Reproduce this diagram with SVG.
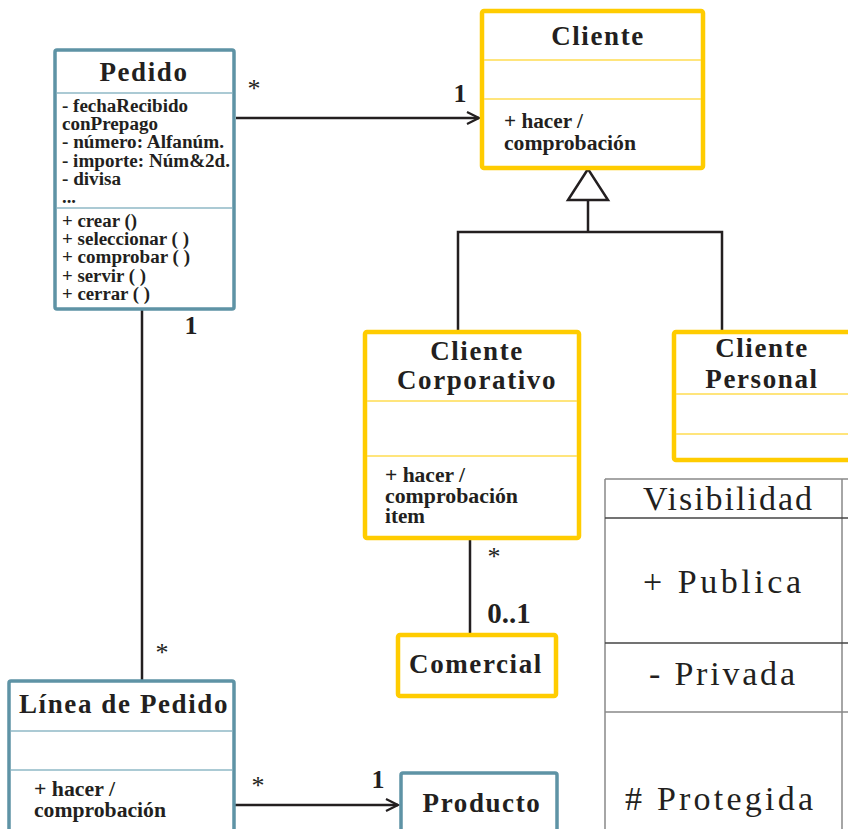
<svg xmlns="http://www.w3.org/2000/svg" width="848" height="829" viewBox="0 0 848 829">
<style>
.bg{fill:#ffffff}
.teal{fill:#ffffff;stroke:#5e93a5;stroke-width:3.5}
.tdiv{stroke:#8fb8c6;stroke-width:1.5;fill:none}
.yel{fill:#ffffff;stroke:#ffcc00;stroke-width:4.5}
.ydiv{stroke:#ffdc50;stroke-width:1.5;fill:none}
.title{font-family:"Liberation Serif",serif;font-weight:bold;font-size:27px;letter-spacing:1.6px;fill:#231f20;text-anchor:middle}
.attr{font-family:"Liberation Serif",serif;font-weight:bold;font-size:18px;fill:#231f20}
.meth{font-family:"Liberation Serif",serif;font-weight:bold;font-size:20.5px;fill:#231f20}
.mult{font-family:"Liberation Serif",serif;font-weight:bold;font-size:26px;fill:#231f20;text-anchor:middle}
.star{font-family:"Liberation Serif",serif;font-size:26px;fill:#231f20;text-anchor:middle}
.conn{stroke:#231f20;stroke-width:2.5;fill:none}
.tab{font-family:"Liberation Serif",serif;font-size:34px;fill:#231f20}
.tline{stroke:#444;stroke-width:1.5;fill:none}
.tgray{stroke:#888;stroke-width:1.5;fill:none}
</style>
<defs>
<marker id="open" markerUnits="userSpaceOnUse" markerWidth="16" markerHeight="14" refX="13" refY="7" orient="auto">
<path d="M1,1 L13,7 L1,13" fill="none" stroke="#231f20" stroke-width="2.2"/>
</marker>
</defs>
<rect class="bg" x="0" y="0" width="848" height="829"/>

<g id="connectors">
<path class="conn" d="M236,118 H479" marker-end="url(#open)"/>
<path class="conn" d="M142,309 V680"/>
<path class="conn" d="M588,200 V232"/>
<path class="conn" d="M458,332 V232 H722 V332"/>
<polygon points="588,169 568,200 608,200" fill="#ffffff" stroke="#231f20" stroke-width="2.5"/>
<path class="conn" d="M470,538 V635"/>
<path class="conn" d="M234,805 H398" marker-end="url(#open)"/>
<text class="star" x="254" y="97">*</text>
<text class="mult" x="460" y="102">1</text>
<text class="mult" x="191" y="334">1</text>
<text class="star" x="162" y="661">*</text>
<text class="star" x="494" y="565">*</text>
<text class="mult" x="509" y="623" style="font-size:29px">0..1</text>
<text class="star" x="258" y="794">*</text>
<text class="mult" x="378" y="788">1</text>
</g>

<g id="pedido">
<rect class="teal" x="55" y="50" width="179" height="259" rx="2"/>
<line class="tdiv" x1="57" y1="93" x2="232" y2="93"/>
<line class="tdiv" x1="57" y1="208" x2="232" y2="208"/>
<text class="title" x="144" y="81">Pedido</text>
<text class="attr" x="62" y="112" textLength="126" lengthAdjust="spacingAndGlyphs">- fechaRecibido</text>
<text class="attr" x="62" y="130" textLength="96" lengthAdjust="spacingAndGlyphs">conPrepago</text>
<text class="attr" x="62" y="148" textLength="162" lengthAdjust="spacingAndGlyphs">- número: Alfanúm.</text>
<text class="attr" x="62" y="167" textLength="168" lengthAdjust="spacingAndGlyphs">- importe: Núm&amp;2d.</text>
<text class="attr" x="62" y="185" textLength="59" lengthAdjust="spacingAndGlyphs">- divisa</text>
<text class="attr" x="62" y="203" textLength="14" lengthAdjust="spacingAndGlyphs">...</text>
<text class="attr" x="62" y="227" textLength="75" lengthAdjust="spacingAndGlyphs">+ crear ()</text>
<text class="attr" x="62" y="245" textLength="127" lengthAdjust="spacingAndGlyphs">+ seleccionar ( )</text>
<text class="attr" x="62" y="263" textLength="128" lengthAdjust="spacingAndGlyphs">+ comprobar ( )</text>
<text class="attr" x="62" y="282" textLength="84" lengthAdjust="spacingAndGlyphs">+ servir ( )</text>
<text class="attr" x="62" y="300" textLength="88" lengthAdjust="spacingAndGlyphs">+ cerrar ( )</text>
</g>

<g id="cliente">
<rect class="yel" x="482" y="11" width="221" height="157" rx="2"/>
<line class="ydiv" x1="484" y1="60" x2="701" y2="60"/>
<line class="ydiv" x1="484" y1="99" x2="701" y2="99"/>
<text class="title" x="598" y="45">Cliente</text>
<text class="meth" x="504" y="128" textLength="79" lengthAdjust="spacingAndGlyphs">+ hacer /</text>
<text class="meth" x="504" y="150" textLength="132" lengthAdjust="spacingAndGlyphs">comprobación</text>
</g>

<g id="cliente-corporativo">
<rect class="yel" x="365" y="332" width="214" height="206" rx="2"/>
<line class="ydiv" x1="367" y1="401" x2="577" y2="401"/>
<line class="ydiv" x1="367" y1="456" x2="577" y2="456"/>
<text class="title" x="477" y="360">Cliente</text>
<text class="title" x="477" y="389">Corporativo</text>
<text class="meth" x="385" y="482" textLength="80" lengthAdjust="spacingAndGlyphs">+ hacer /</text>
<text class="meth" x="385" y="503" textLength="133" lengthAdjust="spacingAndGlyphs">comprobación</text>
<text class="meth" x="385" y="523" textLength="40" lengthAdjust="spacingAndGlyphs">item</text>
</g>

<g id="cliente-personal">
<rect class="yel" x="674" y="332" width="200" height="128" rx="2"/>
<line class="ydiv" x1="676" y1="394" x2="848" y2="394"/>
<line class="ydiv" x1="676" y1="434" x2="848" y2="434"/>
<text class="title" x="762" y="357">Cliente</text>
<text class="title" x="762" y="388">Personal</text>
</g>

<g id="comercial">
<rect class="yel" x="398" y="635" width="158" height="61" rx="2"/>
<text class="title" x="476" y="673">Comercial</text>
</g>

<g id="linea-de-pedido">
<rect class="teal" x="9" y="681" width="225" height="180" rx="2"/>
<line class="tdiv" x1="11" y1="731" x2="232" y2="731"/>
<line class="tdiv" x1="11" y1="770" x2="232" y2="770"/>
<text class="title" x="124" y="713">Línea de Pedido</text>
<text class="meth" x="34" y="796" textLength="81" lengthAdjust="spacingAndGlyphs">+ hacer /</text>
<text class="meth" x="34" y="817" textLength="132" lengthAdjust="spacingAndGlyphs">comprobación</text>
</g>

<g id="producto">
<rect class="teal" x="401" y="773" width="156" height="100" rx="2"/>
<text class="title" x="482" y="812">Producto</text>
</g>

<g id="visibilidad-table">
<line class="tgray" x1="605" y1="479" x2="848" y2="479"/>
<line class="tgray" x1="605" y1="479" x2="605" y2="829"/>
<line class="tgray" x1="842" y1="479" x2="842" y2="829"/>
<line class="tline" x1="605" y1="518" x2="848" y2="518"/>
<line class="tline" x1="605" y1="643" x2="848" y2="643"/>
<line class="tgray" x1="605" y1="712" x2="848" y2="712"/>
<text class="tab" x="643" y="510" textLength="169" lengthAdjust="spacing">Visibilidad</text>
<text class="tab" x="643" y="593" textLength="158" lengthAdjust="spacing">+ Publica</text>
<text class="tab" x="649" y="685" textLength="146" lengthAdjust="spacing">- Privada</text>
<text class="tab" x="625" y="810" textLength="188" lengthAdjust="spacing">#  Protegida</text>
</g>
</svg>
